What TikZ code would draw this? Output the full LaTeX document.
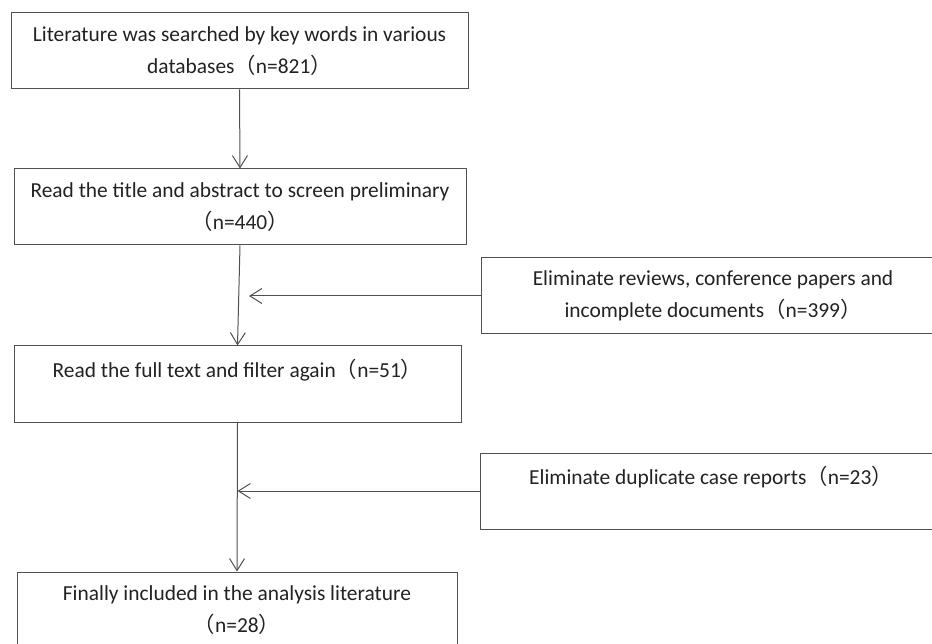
\documentclass[tikz,border=0pt]{standalone}
\usepackage{fontspec}
\setmainfont{Carlito}
\newfontfamily\cjk{Noto Sans CJK SC}
\usetikzlibrary{arrows.meta}
\newcommand{\fwl}{{\cjk （}}
\newcommand{\fwr}{{\cjk ）}}
\definecolor{boxline}{HTML}{505050}
\definecolor{boxtext}{HTML}{222222}
\tikzset{
	stagebox/.style={draw=boxline, line width=1pt, text=boxtext, align=center,
		minimum height=76pt, inner sep=0pt,
		font=\fontsize{21.4}{32}\selectfont},
	arr/.style={draw=boxline, line width=1pt, -{Straight Barb[length=12pt,width=15pt]}}
}

\begin{document}
\begin{tikzpicture}[x=1pt, y=-1pt]
			%%%%% START %%%%%
			
			\useasboundingbox (0, 0) rectangle (932, 644);
			\clip (0, 0) rectangle (932, 644);
			
			\node[stagebox, minimum width=457pt] (search) at (239.5, 51) {Literature was searched by key words in various\\databases\fwl n=821\fwr};
			\node[stagebox, minimum width=452pt] (screen) at (240, 207) {Read the title and abstract to screen preliminary\\\fwl n=440\fwr};
			\node[stagebox, minimum width=447pt] (filter) at (237.5, 384) {Read the full text and filter again\fwl n=51\fwr\\\mbox{}};
			\node[stagebox, minimum width=440pt] (final) at (237, 610) {Finally included in the analysis literature\\\fwl n=28\fwr};
			
			\node[stagebox, minimum width=464pt] (reviews) at (713, 296) {Eliminate reviews, conference papers and\\incomplete documents\fwl n=399\fwr};
			\node[stagebox, minimum width=462pt] (dup) at (711, 491) {Eliminate duplicate case reports\fwl n=23\fwr\\\mbox{}};
			
			\draw[arr] (search.south) -- (screen.north);
			\draw[arr] (screen.south) -- (filter.north);
			\draw[arr] (filter.south) -- (final.north);
			
			\draw[arr] (reviews.west) -- ([xshift=9pt]reviews.west -| screen.south);
			\draw[arr] (dup.west) -- (dup.west -| filter.south);
			
			%%%%% END %%%%%
\end{tikzpicture}
\end{document}
